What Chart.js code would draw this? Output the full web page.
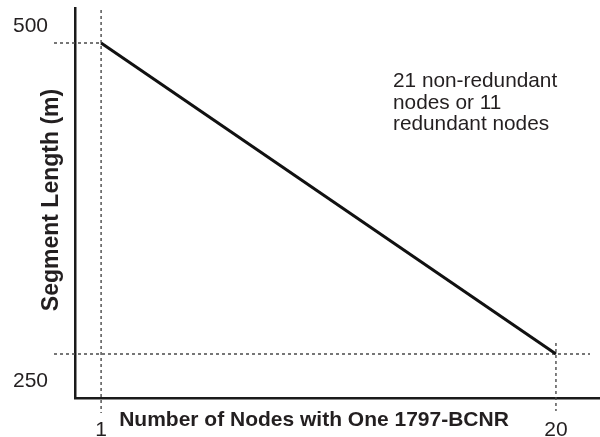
<!DOCTYPE html>
<html>
<head>
<meta charset="utf-8">
<title>Segment Length vs Number of Nodes</title>
<script src="https://cdn.jsdelivr.net/npm/chart.js@4.4.1/dist/chart.umd.min.js"></script>
<style>
  html, body { margin: 0; padding: 0; background: #fff; }
  #wrap { width: 600px; height: 437px; position: relative; }
</style>
</head>
<body>
<div id="wrap"><canvas id="segmentChart"></canvas></div>
<script>
// nodes with one 1797-BCNR vs. max segment length (m)
const nodeCounts = [1, 20];
const segmentLengths = [500, 250];
const xTickLabels = ['1', '20'];
const yTickLabels = ['500', '250'];
const xTitle = 'Number of Nodes with One 1797-BCNR';
const yTitle = 'Segment Length (m)';
const noteLines = ['21 non-redundant', 'nodes or 11', 'redundant nodes'];

const ink = '#231f20';
const FONT = '"Liberation Sans", Arial, Helvetica, sans-serif';

// dotted guides, tick labels, titles and the note, placed off the scales
const overlay = {
    id: 'overlay',
    beforeDatasetsDraw(chart) {
        const { ctx } = chart;
        const xs = chart.scales.x, ys = chart.scales.y;
        ctx.save();
        ctx.strokeStyle = '#4a4a4a';
        ctx.lineWidth = 1.4;
        ctx.setLineDash([3, 3]);
        const x0 = xs.getPixelForValue(nodeCounts[0]);
        const x1 = xs.getPixelForValue(nodeCounts[1]);
        const y0 = ys.getPixelForValue(segmentLengths[0]);
        const y1 = ys.getPixelForValue(segmentLengths[1]);
        ctx.beginPath();
        // 500 m guides
        ctx.moveTo(54, y0); ctx.lineTo(x0, y0);
        ctx.moveTo(x0, 10); ctx.lineTo(x0, 413);
        // 250 m guides
        ctx.moveTo(54, y1); ctx.lineTo(590, y1);
        ctx.moveTo(x1, y1 - 11); ctx.lineTo(x1, 411);
        ctx.stroke();
        ctx.restore();
    },
    afterDraw(chart) {
        const { ctx } = chart;
        const xs = chart.scales.x, ys = chart.scales.y;
        ctx.save();
        ctx.fillStyle = ink;

        // tick labels
        ctx.font = '21px ' + FONT;
        ctx.textBaseline = 'alphabetic';
        ctx.textAlign = 'center';
        xTickLabels.forEach((t, i) => {
            ctx.fillText(t, xs.getPixelForValue(nodeCounts[i]), 436);
        });
        ctx.textAlign = 'right';
        ctx.fillText(yTickLabels[0], 48, ys.getPixelForValue(segmentLengths[0]) - 11);
        ctx.fillText(yTickLabels[1], 48, ys.getPixelForValue(segmentLengths[1]) + 33);

        // axis titles
        ctx.font = 'bold 21px ' + FONT;
        ctx.textAlign = 'center';
        ctx.fillText(xTitle, 314, 426);
        ctx.save();
        ctx.translate(58, 200);
        ctx.rotate(-Math.PI / 2);
        ctx.font = 'bold 23px ' + FONT;
        ctx.fillText(yTitle, 0, 0);
        ctx.restore();

        // note
        ctx.font = '20.8px ' + FONT;
        ctx.textAlign = 'left';
        noteLines.forEach((line, i) => {
            ctx.fillText(line, 393, 87 + i * 21.5);
        });
        ctx.restore();
    }
};

const ctx = document.getElementById('segmentChart').getContext('2d');
new Chart(ctx, {
    type: 'line',
    data: {
        datasets: [{
            data: nodeCounts.map((n, i) => ({ x: n, y: segmentLengths[i] })),
            borderColor: '#111',
            borderWidth: 3,
            pointRadius: 0,
            tension: 0,
            fill: false
        }]
    },
    options: {
        responsive: true,
        maintainAspectRatio: false,
        animation: false,
        layout: { padding: { top: 8, right: 0, left: 0, bottom: 0 } },
        plugins: {
            legend: { display: false },
            tooltip: { enabled: false }
        },
        scales: {
            x: {
                type: 'linear',
                min: -0.09,
                max: 21.84,
                grid: { display: false, drawTicks: false },
                ticks: { display: false },
                border: { display: true, width: 2.5, color: '#1a1a1a' },
                afterFit(scale) { scale.height = 39; }
            },
            y: {
                type: 'linear',
                min: 214.6,
                max: 528.1,
                grid: { display: false, drawTicks: false },
                ticks: { display: false },
                border: { display: true, width: 2.5, color: '#1a1a1a' },
                afterFit(scale) { scale.width = 75; }
            }
        }
    },
    plugins: [overlay]
});
</script>
</body>
</html>
